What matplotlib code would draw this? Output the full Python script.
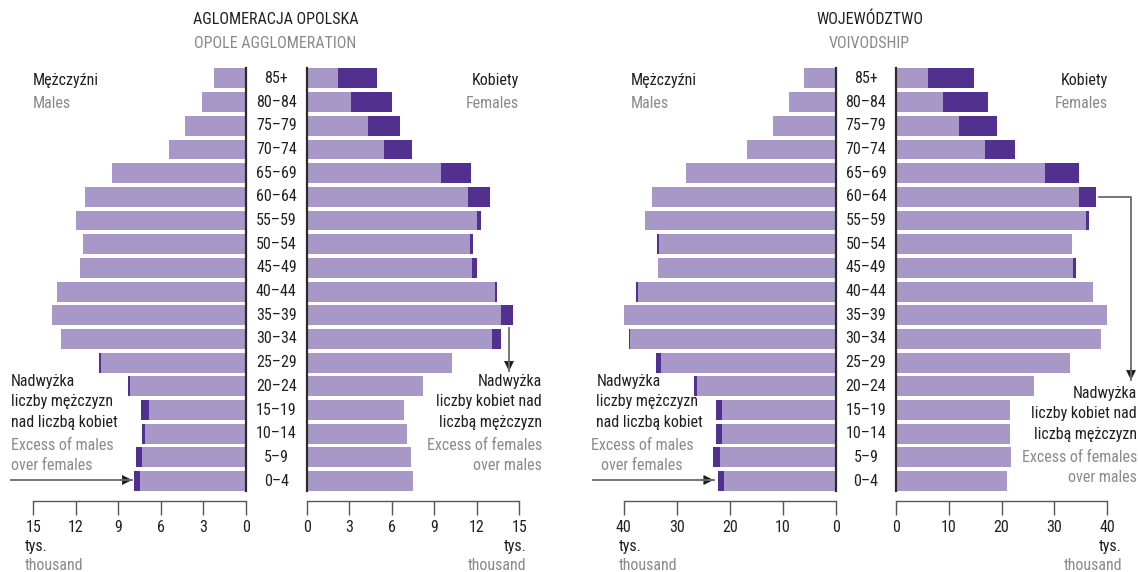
import matplotlib
matplotlib.use("Agg")
import matplotlib.pyplot as plt
import matplotlib.transforms as mtrans
from matplotlib import font_manager as fm
from matplotlib.lines import Line2D
from matplotlib.patches import FancyArrowPatch

# ---------------- data (thousand persons) ----------------
age_groups = ["0–4", "5–9", "10–14", "15–19", "20–24", "25–29", "30–34", "35–39",
              "40–44", "45–49", "50–54", "55–59", "60–64", "65–69", "70–74",
              "75–79", "80–84", "85+"]

opole_males = [7.88, 7.73, 7.30, 7.37, 8.29, 10.39, 13.07, 13.68, 13.30, 11.68,
               11.50, 11.98, 11.38, 9.48, 5.45, 4.28, 3.12, 2.23]
opole_females = [7.47, 7.32, 7.09, 6.87, 8.18, 10.23, 13.68, 14.56, 13.45, 11.98,
                 11.75, 12.29, 12.89, 11.55, 7.45, 6.59, 5.98, 4.96]

voiv_males = [22.26, 23.08, 22.60, 22.60, 26.71, 33.97, 38.97, 40.14, 37.60, 33.49,
              33.70, 35.96, 34.66, 28.22, 16.78, 11.92, 8.90, 6.03]
voiv_females = [21.03, 21.86, 21.51, 21.51, 26.19, 32.92, 38.83, 40.14, 37.25, 34.02,
                33.33, 36.56, 37.87, 34.57, 22.61, 19.04, 17.46, 14.85]

opole_ticks = [0, 3, 6, 9, 12, 15]
voiv_ticks = [0, 10, 20, 30, 40]

# ---------------- style ----------------
LIGHT = "#A898C7"
DARK = "#52308F"
TXT = "#231F20"
GREY = "#8A8A8A"
AXC = "#555555"

avail = {f.name for f in fm.fontManager.ttflist}
fam = "DejaVu Sans"
for cand in ["Liberation Sans Narrow", "Roboto Condensed", "Open Sans Condensed", "DejaVu Sans"]:
    if cand in avail:
        fam = cand
        break
plt.rcParams["font.family"] = [fam, "DejaVu Sans"]
FS = 11.5

W, H = 1138, 572
fig = plt.figure(figsize=(W / 100, H / 100), dpi=100)


def fx(x):
    return x / W


def fy(y):
    return 1 - y / H


TOP, BOT = 68, 491
NROW = len(age_groups)
YLIM = (-0.42, 17.44)


def make_ax(x0, x1, vmax, side, ticks):
    ax = fig.add_axes([fx(x0), fy(BOT), fx(x1) - fx(x0), (BOT - TOP) / H])
    ax.set_ylim(*YLIM)
    if side == "m":
        ax.set_xlim(vmax, 0)
    else:
        ax.set_xlim(0, vmax)
    ax.patch.set_alpha(0)
    for s in ["top", "left", "right"]:
        ax.spines[s].set_visible(False)
    inner = "right" if side == "m" else "left"
    ax.spines[inner].set_visible(True)
    ax.spines[inner].set_color("#2b2b2b")
    ax.spines[inner].set_linewidth(1.6)
    ax.spines["bottom"].set_position(("outward", 7))
    ax.spines["bottom"].set_color(AXC)
    ax.spines["bottom"].set_linewidth(1.0)
    ax.set_yticks([])
    ax.set_xticks(ticks)
    ax.set_xticklabels([str(t) for t in ticks])
    ax.tick_params(axis="x", direction="out", length=10, width=1.0, color=AXC,
                   labelsize=FS, labelcolor=TXT, pad=4)
    return ax


def draw_pyramid(males, females, xm0, xm1, xf0, xf1, vmax, ticks):
    axm = make_ax(xm0, xm1, vmax, "m", ticks)
    axf = make_ax(xf0, xf1, vmax, "f", ticks)
    ys = list(range(NROW))
    base = [min(m, f) for m, f in zip(males, females)]
    ex_m = [max(m - f, 0) for m, f in zip(males, females)]
    ex_f = [max(f - m, 0) for m, f in zip(males, females)]
    h = 0.84
    axm.barh(ys, base, height=h, color=LIGHT, linewidth=0)
    axm.barh(ys, ex_m, left=base, height=h, color=DARK, linewidth=0)
    axf.barh(ys, base, height=h, color=LIGHT, linewidth=0)
    axf.barh(ys, ex_f, left=base, height=h, color=DARK, linewidth=0)
    return axm, axf


axm1, axf1 = draw_pyramid(opole_males, opole_females, 33.4, 245.9, 306.9, 519.4, 15, opole_ticks)
axm2, axf2 = draw_pyramid(voiv_males, voiv_females, 623.7, 835.7, 896.0, 1107.2, 40, voiv_ticks)

# age labels in the middle
for ax, xc in [(axm1, 276.4), (axm2, 866.0)]:
    tr = mtrans.blended_transform_factory(fig.transFigure, ax.transData)
    for i, lab in enumerate(age_groups):
        fig.text(fx(xc), i, lab, transform=tr, ha="center", va="center",
                 fontsize=FS, color=TXT)


def t(x, y, s, color=TXT, ha="left", va="center"):
    fig.text(fx(x), fy(y), s, ha=ha, va=va, fontsize=FS, color=color)


# titles
t(275.5, 19, "AGLOMERACJA OPOLSKA", ha="center")
t(275.5, 43, "OPOLE AGGLOMERATION", GREY, ha="center")
t(869.5, 19, "WOJEWÓDZTWO", ha="center")
t(869.5, 43, "VOIVODSHIP", GREY, ha="center")

# sex headers
t(33, 80, "Mężczyźni")
t(33, 103, "Males", GREY)
t(519, 80, "Kobiety", ha="right")
t(519, 103, "Females", GREY, ha="right")
t(630.5, 80, "Mężczyźni")
t(630.5, 103, "Males", GREY)
t(1107.5, 80, "Kobiety", ha="right")
t(1107.5, 103, "Females", GREY, ha="right")

# units
t(25, 546, "tys.")
t(25, 565, "thousand", GREY)
t(526.5, 546, "tys.", ha="right")
t(526.5, 565, "thousand", GREY, ha="right")
t(619, 546, "tys.")
t(619, 565, "thousand", GREY)
t(1122, 546, "tys.", ha="right")
t(1122, 565, "thousand", GREY, ha="right")

LS = 20.3
# annotations - left pyramid
for k, s in enumerate(["Nadwyżka", "liczby mężczyzn", "nad liczbą kobiet"]):
    t(10.8, 381.5 + LS * k, s)
t(10.8, 446, "Excess of males", GREY)
t(10.8, 466, "over females", GREY)
for k, s in enumerate(["Nadwyżka", "liczby kobiet nad", "liczbą mężczyzn"]):
    t(542, 381.5 + LS * k, s, ha="right")
t(542, 446, "Excess of females", GREY, ha="right")
t(542, 466, "over males", GREY, ha="right")

# annotations - right pyramid
for k, s in enumerate(["Nadwyżka", "liczby mężczyzn", "nad liczbą kobiet"]):
    t(596.5, 381.5 + LS * k, s)
t(642, 446, "Excess of males", GREY, ha="center")
t(642, 466, "over females", GREY, ha="center")
for k, s in enumerate(["Nadwyżka", "liczby kobiet nad", "liczbą mężczyzn"]):
    t(1137, 393.5 + LS * k, s, ha="right")
t(1137, 457, "Excess of females", GREY, ha="right")
t(1137, 477, "over males", GREY, ha="right")


def arrow(points):
    xs = [fx(p[0]) for p in points]
    ys = [fy(p[1]) for p in points]
    fig.add_artist(Line2D(xs, ys, transform=fig.transFigure, color="#6b6b6b", lw=1.3))
    (xa, ya), (xb, yb) = points[-2], points[-1]
    dx, dy = xb - xa, yb - ya
    L = (dx * dx + dy * dy) ** 0.5
    sx, sy = xb - dx / L * 12, yb - dy / L * 12
    fig.add_artist(FancyArrowPatch(
        (fx(sx), fy(sy)), (fx(xb), fy(yb)), transform=fig.transFigure,
        arrowstyle="-|>", mutation_scale=16, color="#1a1a1a", lw=0.5,
        shrinkA=0, shrinkB=0))


arrow([(10.8, 480), (132, 480)])
arrow([(509, 328), (509, 371)])
arrow([(592.5, 480), (713.5, 480)])
arrow([(1099, 197), (1131, 197), (1131, 380)])

fig.savefig("out.png", dpi=100)
